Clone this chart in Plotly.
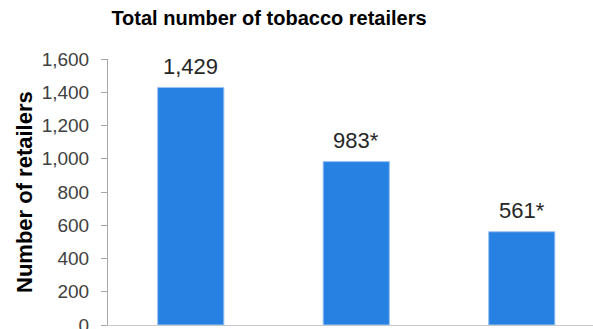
import plotly.graph_objects as go

categories = ["Group 1", "Group 2", "Group 3"]
values = [1429, 983, 561]
labels = ["1,429", "983*", "561*"]
y_ticks = [0, 200, 400, 600, 800, 1000, 1200, 1400, 1600]
y_tick_text = ["0", "200", "400", "600", "800", "1,000", "1,200", "1,400", "1,600"]

fig = go.Figure()
fig.add_trace(go.Bar(
    x=categories, y=values,
    marker=dict(color="#2681E3", line=dict(color="#9CC4F2", width=1)),
    width=0.4,
))
for c, v, t in zip(categories, values, labels):
    fig.add_annotation(x=c, y=v, text=t, showarrow=False, yanchor="middle", yshift=21,
                       font=dict(family="Arial, Liberation Sans", size=22, color="#262626"))

fig.update_layout(
    width=593, height=329,
    margin=dict(l=108, r=0, t=59, b=4, autoexpand=False),
    paper_bgcolor="white", plot_bgcolor="white",
    showlegend=False,
    title=dict(text="<b>Total number of tobacco retailers</b>", x=269/593, xanchor="center",
               y=1 - 18/329, yanchor="middle",
               font=dict(family="Arial, Liberation Sans", size=20, color="#000000")),
    annotations=list(fig.layout.annotations) + [dict(
        text="<b>Number of retailers</b>", xref="paper", yref="paper",
        x=-(108 - 24) / 485, y=0.5, xanchor="center", yanchor="middle", textangle=-90,
        showarrow=False, font=dict(family="Arial, Liberation Sans", size=22, color="#000000"))],
)
fig.update_xaxes(range=[-0.5, -0.5 + 485 / 165.5], showticklabels=False, ticks="",
                 showline=True, linecolor="#C8C8C8", linewidth=1, showgrid=False, zeroline=False,
                 automargin=False)
fig.update_yaxes(range=[0, 1600], tickvals=y_ticks, ticktext=y_tick_text, ticks="outside",
                 ticklen=6, tickcolor="#A6A6A6", showline=True, linecolor="#A6A6A6", linewidth=1,
                 showgrid=False, zeroline=False, ticklabelstandoff=8, ticklabeloverflow="allow",
                 automargin=False,
                 tickfont=dict(family="Arial, Liberation Sans", size=19, color="#404040"))

fig.write_html("out.html", config={"displayModeBar": False},
               post_script="document.body.style.margin='0';")
